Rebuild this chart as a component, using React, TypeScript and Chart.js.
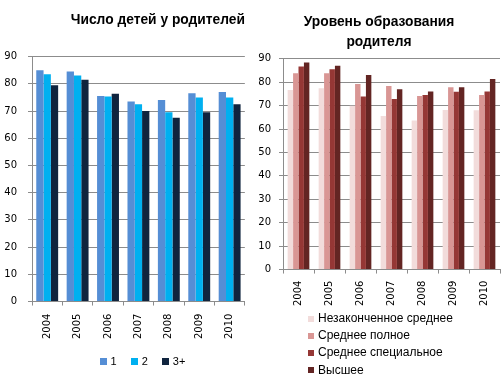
import React, { useEffect, useRef } from "react";
import { Chart, registerables } from "chart.js";

Chart.register(...registerables);

const years = ["2004", "2005", "2006", "2007", "2008", "2009", "2010"];

const childTitle = "Число детей у родителей";
const childLabels = ["1", "2", "3+"];
const child1 = [85, 84.5, 75.5, 73.5, 74, 76.5, 77];
const child2 = [83.5, 83, 75.3, 72.5, 69.5, 75, 75];
const child3 = [79.5, 81.5, 76.3, 70, 67.5, 69.5, 72.5];
const childColors = ["#558ED5", "#00B0F0", "#10243E"];

const eduTitle = ["Уровень образования", "родителя"];
const eduLabels = ["Незаконченное среднее", "Среднее полное", "Среднее специальное", "Высшее"];
const edu1 = [76.7, 77.4, 70, 65.6, 63.7, 68.1, 68];
const edu2 = [83.9, 83.9, 79.3, 78.4, 74.1, 77.9, 74.6];
const edu3 = [86.7, 85.6, 73.9, 72.9, 74.6, 75.9, 76];
const edu4 = [88.4, 87.1, 83.1, 77, 76, 77.9, 81.4];
const eduColors = ["#F2DCDB", "#D99694", "#953735", "#632523"];

const yMin = 0;
const yMax = 90;
const yStep = 10;

const GRID = "#8c8c8c";

const legendPlugin = {
  id: "customLegend",
  afterDraw(chart: any, _args: any, opts: any) {
    const ctx = chart.ctx;
    const area = chart.chartArea;
    ctx.save();
    ctx.font = opts.font;
    ctx.textBaseline = "middle";
    ctx.textAlign = "left";
    const box = opts.box;
    const items = chart.data.datasets.map((d: any) => ({ text: d.label, color: d.backgroundColor }));
    if (opts.mode === "row") {
      const widths = items.map((it: any) => box + opts.textGap + ctx.measureText(it.text).width);
      const total = widths.reduce((a: number, b: number) => a + b, 0) + opts.itemGap * (items.length - 1);
      let x = (area.left + area.right) / 2 + opts.shiftX - total / 2;
      const y = area.bottom + opts.offsetY;
      items.forEach((it: any, i: number) => {
        ctx.fillStyle = it.color;
        ctx.fillRect(Math.round(x), Math.round(y - box / 2), box, box);
        ctx.fillStyle = "#000";
        ctx.fillText(it.text, x + box + opts.textGap, y);
        x += widths[i] + opts.itemGap;
      });
    } else {
      const x = area.left + opts.shiftX;
      items.forEach((it: any, i: number) => {
        const y = area.bottom + opts.offsetY + i * opts.rowGap;
        ctx.fillStyle = it.color;
        ctx.fillRect(Math.round(x), Math.round(y - box / 2), box, box);
        ctx.fillStyle = "#000";
        ctx.fillText(it.text, x + box + opts.textGap, y);
      });
    }
    ctx.restore();
  },
};

function makeScales(xPad: number, yPad: number, yWidth: number) {
  return {
    x: {
      grid: { display: true, drawOnChartArea: false, drawTicks: true, tickLength: 4, color: GRID, offset: true },
      border: { color: GRID },
      ticks: {
        minRotation: 90,
        maxRotation: 90,
        padding: xPad,
        color: "#000",
        font: { family: "DejaVu Sans", size: 10 },
      },
    },
    y: {
      min: yMin,
      max: yMax,
      grid: { color: GRID, tickLength: 4 },
      border: { color: GRID },
      afterFit: (s: any) => {
        s.width = yWidth;
      },
      ticks: {
        stepSize: yStep,
        padding: yPad,
        color: "#000",
        font: { family: "DejaVu Sans", size: 10 },
      },
    },
  };
}

function ChildChart() {
  const ref = useRef<HTMLCanvasElement>(null);
  useEffect(() => {
    const series = [child1, child2, child3];
    const chart = new Chart(ref.current as HTMLCanvasElement, {
      type: "bar",
      data: {
        labels: years,
        datasets: series.map((s, i) => ({
          label: childLabels[i],
          data: s,
          backgroundColor: childColors[i],
          categoryPercentage: 0.72,
          barPercentage: 1.0,
        })),
      },
      options: {
        responsive: false,
        animation: false,
        layout: { padding: { left: 4, right: 5, top: 0, bottom: 36 } },
        plugins: {
          legend: { display: false },
          tooltip: { enabled: false },
          title: {
            display: true,
            text: childTitle,
            align: "end",
            color: "#000",
            font: { family: "Liberation Sans", size: 13.8, weight: "bold", lineHeight: 1.2 },
            padding: { top: 12, bottom: 28 },
          },
          customLegend: {
            mode: "row",
            font: "11px 'Liberation Sans'",
            box: 7,
            textGap: 4,
            itemGap: 14,
            shiftX: 4,
            offsetY: 60,
          },
        } as any,
        scales: makeScales(8, 11, 28) as any,
      },
      plugins: [legendPlugin],
    });
    return () => chart.destroy();
  }, []);
  return <canvas ref={ref} width={250} height={383} style={{ position: "absolute", left: 0, top: 0 }} />;
}

function EduChart() {
  const ref = useRef<HTMLCanvasElement>(null);
  useEffect(() => {
    const series = [edu1, edu2, edu3, edu4];
    const chart = new Chart(ref.current as HTMLCanvasElement, {
      type: "bar",
      data: {
        labels: years,
        datasets: series.map((s, i) => ({
          label: eduLabels[i],
          data: s,
          backgroundColor: eduColors[i],
          categoryPercentage: 0.7,
          barPercentage: 1.0,
        })),
      },
      options: {
        responsive: false,
        animation: false,
        layout: { padding: { left: 8, right: 4, top: 0, bottom: 70 } },
        plugins: {
          legend: { display: false },
          tooltip: { enabled: false },
          title: {
            display: true,
            text: eduTitle,
            align: "center",
            color: "#000",
            font: { family: "Liberation Sans", size: 13.8, weight: "bold", lineHeight: 1.48 },
            padding: { top: 12, bottom: 6 },
          },
          customLegend: {
            mode: "column",
            font: "12px 'Liberation Sans'",
            box: 6,
            textGap: 4,
            shiftX: 25,
            offsetY: 49,
            rowGap: 17.3,
          },
        } as any,
        scales: makeScales(7, 8, 25) as any,
      },
      plugins: [legendPlugin],
    });
    return () => chart.destroy();
  }, []);
  return <canvas ref={ref} width={254} height={383} style={{ position: "absolute", left: 250, top: 0 }} />;
}

export default function App() {
  return (
    <div style={{ position: "fixed", left: 0, top: 0, width: 504, height: 383, background: "#fff", overflow: "hidden" }}>
      <ChildChart />
      <EduChart />
    </div>
  );
}
